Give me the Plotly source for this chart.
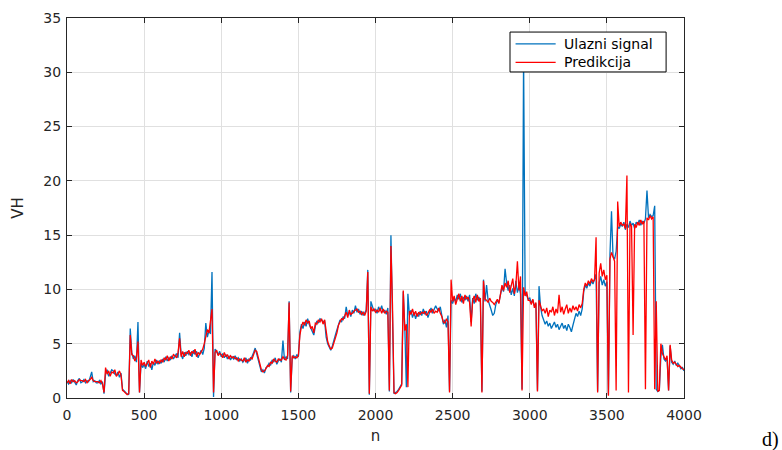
import numpy as np
import plotly.graph_objects as go

# sample index (every 10th sample of n)
n = list(range(0, 4001, 10))

ulazni_signal = [
    1.5,1.3,1.6,1.4,1.7,1.5,1.2,1.6,1.8,1.4,
    1.5,1.7,1.4,1.6,1.5,1.9,2.4,1.5,1.6,1.4,
    1.4,1.6,1.3,1.5,0.4,2.2,2.6,2.0,2.3,2.6,
    2.5,2.2,2.1,2.4,1.9,2.3,0.8,0.6,0.5,0.4,
    0.3,6.4,4.2,3.6,3.9,3.3,7.0,0.5,3.2,2.8,
    3.1,2.7,3.4,2.9,3.2,2.6,3.3,3.0,3.5,3.1,
    3.4,3.2,3.6,3.3,3.8,3.4,3.7,3.5,3.9,3.6,
    3.8,4.1,3.7,6.0,4.0,3.6,4.2,3.9,4.3,4.0,
    4.2,3.8,4.4,4.0,4.3,3.7,4.1,4.4,4.0,4.6,
    6.9,5.6,6.2,5.9,11.6,0.1,4.5,4.2,4.0,4.3,
    3.8,4.1,3.7,4.0,3.6,3.9,3.5,3.8,3.6,3.9,
    3.5,3.7,3.4,3.6,3.3,3.5,3.7,3.2,3.6,3.5,
    3.8,4.2,4.6,4.1,3.6,3.0,2.4,2.6,2.3,2.8,
    2.9,3.2,3.0,3.5,3.3,3.7,3.1,3.4,3.6,3.3,
    5.3,3.5,3.8,3.6,8.9,0.5,3.7,3.9,3.6,4.0,
    3.8,6.1,6.8,6.4,7.0,6.6,7.3,6.8,6.5,6.2,
    5.8,6.6,7.1,6.9,7.3,7.2,7.0,7.1,5.6,5.0,
    4.6,4.4,4.8,5.2,5.8,6.3,6.9,7.2,7.0,7.5,
    7.3,8.4,7.6,7.9,7.5,8.1,7.8,8.5,7.9,8.2,
    7.7,8.0,7.6,7.9,8.1,11.8,0.3,8.9,8.3,8.0,
    8.2,7.8,8.4,8.0,8.5,7.9,8.1,7.7,8.3,0.6,
    15.0,8.9,0.4,0.5,0.6,0.8,1.0,1.3,9.8,6.5,
    1.0,9.6,7.6,8.1,7.4,7.9,7.3,7.8,7.5,8.0,
    7.6,8.2,7.7,8.0,7.4,7.9,8.3,7.8,8.1,8.5,
    8.2,8.0,8.4,7.7,6.8,7.2,6.5,7.6,0.6,9.0,
    8.7,9.2,8.9,9.5,9.1,9.6,8.8,9.3,9.0,9.4,
    8.9,9.5,7.0,9.2,8.7,9.6,9.0,9.3,8.8,0.6,
    10.9,8.9,10.4,9.0,8.6,8.1,7.6,7.8,8.6,9.0,
    8.8,9.5,10.2,9.8,11.9,10.6,9.9,10.4,9.5,10.1,
    9.4,10.8,9.7,10.3,9.6,0.8,31.5,9.8,9.5,9.1,
    9.2,8.8,9.0,8.5,8.7,0.7,10.3,8.4,7.6,7.2,
    6.8,7.1,6.6,6.9,6.4,6.7,7.0,6.5,6.8,6.3,
    6.6,6.9,6.4,6.7,6.2,6.8,6.5,6.1,6.7,7.4,
    7.8,7.5,8.0,7.6,8.2,9.8,10.4,10.1,10.6,10.3,
    10.8,10.5,11.0,11.4,0.6,10.6,11.2,10.4,10.9,10.3,
    10.7,0.3,13.2,17.2,13.0,12.8,13.5,15.8,15.6,16.0,
    15.8,16.2,15.5,16.0,15.7,16.3,15.9,16.1,15.6,16.2,
    16.0,16.4,15.9,16.3,16.1,16.5,19.1,16.6,16.9,16.7,
    16.8,17.7,0.8,0.6,0.7,3.8,4.9,3.6,3.4,3.7,
    0.7,4.8,3.3,3.1,3.4,3.0,3.2,2.9,2.7,2.8,
    2.5,
]

predikcija = [
    1.4,1.6,1.3,1.7,1.5,1.6,1.4,1.5,1.7,1.6,
    1.6,1.5,1.7,1.4,1.6,1.7,1.9,1.6,1.5,1.5,
    1.5,1.4,1.6,1.3,0.5,2.8,2.2,2.5,2.0,2.4,
    2.3,2.6,2.0,2.2,2.5,2.1,0.7,0.6,0.4,0.3,
    0.4,5.8,4.0,3.9,3.4,3.7,5.2,0.5,3.5,3.0,
    3.3,2.9,3.2,3.5,2.8,3.4,3.1,3.6,3.2,3.4,
    3.2,3.5,3.3,3.7,3.5,3.9,3.4,3.8,3.6,4.0,
    3.9,3.7,4.2,5.5,3.8,4.3,3.8,4.2,4.1,4.4,
    3.9,4.3,4.1,4.5,3.8,4.2,4.0,4.3,4.5,5.0,
    5.6,6.3,6.0,7.0,8.2,0.5,4.2,4.4,3.9,4.1,
    4.0,3.7,4.2,3.8,4.0,3.6,3.9,3.7,3.8,3.6,
    3.7,3.4,3.6,3.5,3.4,3.7,3.3,3.5,3.4,3.7,
    3.6,4.0,4.4,4.3,3.8,3.2,2.6,2.4,2.5,2.7,
    3.0,2.9,3.3,3.2,3.6,3.4,3.3,3.6,3.5,3.5,
    3.8,3.6,3.5,3.9,8.8,0.6,3.9,3.7,3.8,3.7,
    3.9,5.8,6.6,7.0,6.7,7.2,6.9,7.1,6.4,6.6,
    6.0,6.9,6.8,7.2,7.0,7.3,6.8,7.2,5.9,5.2,
    4.8,4.5,4.6,5.0,5.6,6.0,6.7,7.0,7.3,7.2,
    7.6,7.9,7.4,8.1,7.7,7.8,8.0,8.1,8.2,7.9,
    8.0,7.7,7.9,7.6,8.0,11.6,0.4,8.4,8.0,8.2,
    7.9,8.1,7.9,8.3,7.8,8.2,7.8,8.0,7.9,0.7,
    14.0,8.6,0.5,0.4,0.5,0.7,0.9,1.2,9.9,6.2,
    6.8,1.0,8.0,7.7,8.2,7.6,8.0,7.5,7.9,7.7,
    7.9,7.8,8.0,7.6,7.8,8.1,7.9,8.2,7.8,8.0,
    7.9,8.3,7.8,7.5,7.0,6.9,7.3,7.0,0.5,10.9,
    8.9,9.4,8.6,9.2,9.6,8.9,9.4,8.7,9.5,9.1,
    9.3,8.8,6.6,9.0,9.4,8.8,9.5,8.9,9.2,0.5,
    10.8,9.1,9.0,8.8,9.2,8.9,8.8,8.6,8.9,9.1,
    8.7,9.8,10.4,9.9,10.6,10.2,10.8,9.7,10.5,11.0,
    9.6,10.4,12.6,9.9,11.2,0.7,10.2,9.4,9.8,9.0,
    9.0,8.6,9.1,8.3,8.8,0.6,9.0,8.5,8.0,8.2,
    7.8,8.3,7.5,8.1,7.9,8.4,7.6,8.2,7.8,9.5,
    7.9,8.4,7.7,8.2,8.6,7.8,8.3,7.9,8.5,8.1,
    8.4,8.0,8.6,8.3,8.7,10.0,10.6,10.3,10.8,10.5,
    11.0,10.7,10.9,14.8,0.5,11.5,12.4,11.2,11.8,10.9,
    11.3,0.2,12.8,13.4,13.0,12.6,0.7,18.1,15.8,16.2,
    15.9,16.0,15.6,20.5,0.5,16.1,15.8,5.8,16.0,15.7,
    16.2,15.9,16.4,16.0,16.3,0.8,16.6,16.4,16.8,16.5,
    16.7,0.8,8.9,0.6,0.7,5.0,4.1,3.7,3.5,3.9,
    0.7,4.9,3.5,3.2,3.3,3.1,2.9,3.0,2.8,2.7,
    2.6,
]

series_names = ["Ulazni signal", "Predikcija"]
series_colors = ["#0072BD", "#FF0000"]

x_ticks = [0, 500, 1000, 1500, 2000, 2500, 3000, 3500, 4000]
y_ticks = [0, 5, 10, 15, 20, 25, 30, 35]

AX = "#262626"
FONT = "DejaVu Sans, Arial, sans-serif"

fig = go.Figure()
for name, ys, col in zip(series_names, [ulazni_signal, predikcija], series_colors):
    fig.add_trace(go.Scatter(x=n, y=ys, mode="lines", name=name,
                             line=dict(color=col, width=1.3)))

axis_common = dict(showline=True, linecolor=AX, linewidth=1, mirror="ticks",
                   ticks="inside", ticklen=5, tickcolor=AX, showgrid=True,
                   gridcolor="#e0e0e0", gridwidth=1, zeroline=False,
                   automargin=False,
                   tickfont=dict(family=FONT, size=14, color=AX))

fig.update_layout(
    width=782, height=450,
    margin=dict(l=67, r=98, t=18, b=52),
    paper_bgcolor="white", plot_bgcolor="white",
    font=dict(family=FONT, size=14, color=AX),
    xaxis=dict(range=[0, 4000], tickvals=x_ticks, ticklabelstandoff=4, **axis_common,
               title=dict(text="n", font=dict(family=FONT, size=15, color=AX), standoff=8)),
    yaxis=dict(range=[0, 35], tickvals=y_ticks, ticklabelstandoff=2, **axis_common,
               title=dict(text="VH", font=dict(family=FONT, size=15, color=AX), standoff=16)),
    showlegend=False,
)

# legend box drawn in paper coordinates (MATLAB-style legend)
lx0, lx1, ly0, ly1 = 0.718, 0.971, 0.858, 0.963
fig.add_shape(type="rect", xref="paper", yref="paper", x0=lx0, x1=lx1, y0=ly0, y1=ly1,
              fillcolor="white", line=dict(color="#000000", width=1), layer="above")
rows_y = [0.932, 0.883]
for name, col, ry in zip(series_names, series_colors, rows_y):
    fig.add_shape(type="line", xref="paper", yref="paper", x0=0.727, x1=0.792, y0=ry, y1=ry,
                  line=dict(color=col, width=1.3), layer="above")
    fig.add_annotation(text=name, xref="paper", yref="paper", x=0.803, y=ry,
                       xanchor="left", yanchor="middle", showarrow=False,
                       font=dict(family=FONT, size=14, color="#000000"))

fig.add_annotation(text="d)", xref="paper", yref="paper", x=1.157, y=-0.108,
                   xanchor="right", yanchor="middle", showarrow=False,
                   font=dict(family="Liberation Serif, Times New Roman, serif", size=20, color="#000000"))

fig.write_html("out.html")
